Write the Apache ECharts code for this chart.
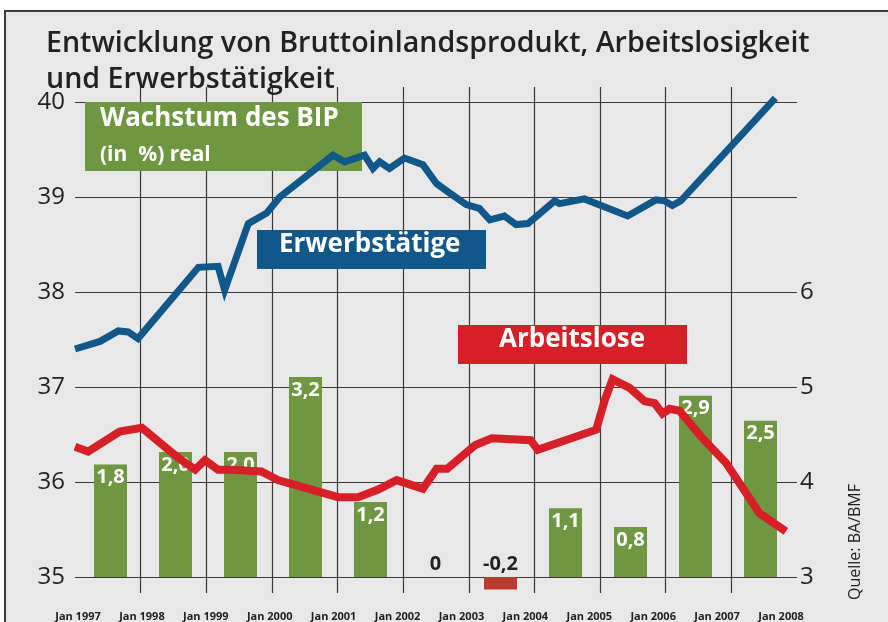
<!DOCTYPE html>
<html>
<head>
<meta charset="utf-8">
<script src="https://cdn.jsdelivr.net/npm/echarts@6/dist/echarts.min.js"></script>
<style>
  html, body { margin: 0; padding: 0; background: #fff; }
  #main { width: 888px; height: 622px; }
</style>
</head>
<body>
<div id="main"></div>
<script>
// BIP-Wachstum je Jahr (in %)
var bipYears = ['1997', '1998', '1999', '2000', '2001', '2002', '2003', '2004', '2005', '2006', '2007'];
var bipGrowth = [1.8, 2.0, 2.0, 3.2, 1.2, 0, -0.2, 1.1, 0.8, 2.9, 2.5];

// Erwerbstaetige (Mio., linke Achse)
var erwerbTime = [1997.00, 1997.38, 1997.66, 1997.81, 1997.96, 1998.88, 1999.18, 1999.28, 1999.64, 1999.92,
  2000.12, 2000.93, 2001.11, 2001.41, 2001.54, 2001.64, 2001.79, 2002.02, 2002.30, 2002.51,
  2002.71, 2002.96, 2003.16, 2003.32, 2003.54, 2003.72, 2003.90, 2004.31, 2004.38, 2004.76,
  2005.42, 2005.85, 2005.98, 2006.10, 2006.23, 2007.67];
var erwerbValues = [37.40, 37.48, 37.59, 37.58, 37.51, 38.26, 38.27, 38.02, 38.72, 38.83,
  39.00, 39.44, 39.37, 39.44, 39.30, 39.37, 39.30, 39.41, 39.34, 39.14,
  39.04, 38.92, 38.88, 38.76, 38.80, 38.71, 38.72, 38.96, 38.93, 38.98,
  38.80, 38.97, 38.96, 38.91, 38.96, 40.04];

// Arbeitslose (Mio., rechte Achse)
var arbeitslosTime = [1997.00, 1997.20, 1997.68, 1998.02, 1998.37, 1998.62, 1998.83, 1998.98, 1999.18, 1999.39,
  1999.84, 2000.09, 2000.35, 2001.01, 2001.31, 2001.62, 2001.90, 2002.30, 2002.51, 2002.67,
  2003.10, 2003.35, 2003.94, 2004.05, 2004.94, 2005.07, 2005.19, 2005.45, 2005.68, 2005.83,
  2005.95, 2006.06, 2006.21, 2006.56, 2006.92, 2007.43, 2007.83];
var arbeitslosValues = [4.37, 4.32, 4.53, 4.57, 4.37, 4.23, 4.13, 4.23, 4.13, 4.13,
  4.11, 4.02, 3.97, 3.84, 3.84, 3.92, 4.02, 3.93, 4.14, 4.14,
  4.39, 4.46, 4.44, 4.34, 4.55, 4.86, 5.08, 4.99, 4.85, 4.83,
  4.72, 4.77, 4.75, 4.46, 4.20, 3.67, 3.48];

var xLabels = ['Jan 1997', 'Jan 1998', 'Jan 1999', 'Jan 2000', 'Jan 2001', 'Jan 2002',
  'Jan 2003', 'Jan 2004', 'Jan 2005', 'Jan 2006', 'Jan 2007', 'Jan 2008'];

var FONT = '"Open Sans", "DejaVu Sans", sans-serif';
var GREEN = '#6f9640', BLUE = '#12578a', RED = '#d71f27';

function pairs(xs, ys) {
  return xs.map(function (x, i) { return [x, ys[i]]; });
}

function fmt(v) {
  return v === 0 ? '0' : v.toFixed(1).replace('.', ',');
}

var barData = bipGrowth.map(function (v) {
  if (v > 0) return v;
  return {
    value: v,
    itemStyle: { color: '#b93c2e' },
    label: { position: 'top', color: '#222', distance: 3 }
  };
});

var chart = echarts.init(document.getElementById('main'));

chart.setOption({
  backgroundColor: '#e8e8e8',
  animation: false,
  textStyle: { fontFamily: FONT },
  title: {
    text: 'Entwicklung von Bruttoinlandsprodukt, Arbeitslosigkeit\nund Erwerbstätigkeit',
    left: 41,
    top: 21,
    textStyle: { fontFamily: FONT, fontSize: 28.6, lineHeight: 36, fontWeight: 600, color: '#222' }
  },
  grid: [
    { left: 75, top: 102, width: 722, height: 475 },
    { left: 75, top: 87, width: 722, height: 506 },
    { left: 78, top: 102, width: 715, height: 500 },
    { left: 78, top: 560, width: 703, height: 45 }
  ],
  xAxis: [
    { gridIndex: 0, type: 'value', min: 1997, max: 2008, show: false },
    {
      gridIndex: 1, type: 'value', min: 1997, max: 2008, interval: 1,
      axisLine: { show: false }, axisTick: { show: false }, axisLabel: { show: false },
      splitLine: { show: true, showMinLine: false, showMaxLine: false, lineStyle: { color: '#3a3a3a', width: 1.2 } }
    },
    { gridIndex: 2, type: 'category', data: bipYears, show: false },
    {
      gridIndex: 3, type: 'category', data: xLabels, boundaryGap: false,
      axisLine: { show: false }, axisTick: { show: false }, splitLine: { show: false },
      axisLabel: { interval: 0, margin: 6, fontSize: 11, fontWeight: 'bold', color: '#222', fontFamily: FONT }
    }
  ],
  yAxis: [
    {
      gridIndex: 0, type: 'value', position: 'left', min: 35, max: 40, interval: 1,
      axisLine: { show: false }, axisTick: { show: false },
      axisLabel: { fontSize: 24, color: '#222', margin: 10, fontFamily: FONT },
      splitLine: { show: true, lineStyle: { color: '#3a3a3a', width: 1.2 } }
    },
    {
      gridIndex: 0, type: 'value', position: 'right', min: 3, max: 8, interval: 1,
      axisLine: { show: false }, axisTick: { show: false }, splitLine: { show: false },
      axisLabel: {
        fontSize: 24, color: '#222', margin: 3, fontFamily: FONT,
        formatter: function (v) { return v <= 6 ? String(v) : ''; }
      }
    },
    { gridIndex: 1, type: 'value', show: false },
    { gridIndex: 2, type: 'value', min: -0.4, max: 7.6, show: false },
    { gridIndex: 3, type: 'value', show: false }
  ],
  graphic: [
    { type: 'rect', silent: true, z: 1, shape: { x: 0, y: 0, width: 888, height: 10 }, style: { fill: '#fff' } },
    { type: 'rect', silent: true, z: 1, shape: { x: 0, y: 0, width: 4, height: 622 }, style: { fill: '#fff' } },
    { type: 'polyline', silent: true, z: 1, shape: { points: [[5, 622], [5, 11], [888, 11]] }, style: { stroke: '#3c3c3c', lineWidth: 2, fill: null } },

    { type: 'rect', silent: true, z: 1, shape: { x: 85, y: 102, width: 277, height: 69 }, style: { fill: GREEN } },
    { type: 'text', silent: true, z: 1, left: 100, top: 106, style: { text: 'Wachstum des BIP', fill: '#fff', font: 'bold 26px ' + FONT } },
    { type: 'text', silent: true, z: 1, left: 100, top: 145, style: { text: '(in  %) real', fill: '#fff', font: 'bold 21px ' + FONT } },

    { type: 'rect', silent: true, z: 1, shape: { x: 257, y: 230, width: 229, height: 39 }, style: { fill: BLUE } },
    { type: 'text', silent: true, z: 1, left: 279, top: 232, style: { text: 'Erwerbstätige', fill: '#fff', font: 'bold 26px ' + FONT } },

    { type: 'rect', silent: true, z: 1, shape: { x: 458, y: 325, width: 229, height: 39 }, style: { fill: RED } },
    { type: 'text', silent: true, z: 1, left: 499, top: 327, style: { text: 'Arbeitslose', fill: '#fff', font: 'bold 26px ' + FONT } },

    {
      type: 'text', silent: true, z: 1, x: 855, y: 542, rotation: Math.PI / 2,
      style: { text: 'Quelle: BA/BMF', fill: '#222', font: '16px ' + FONT, align: 'center', verticalAlign: 'middle' }
    }
  ],
  series: [
    {
      type: 'bar', xAxisIndex: 2, yAxisIndex: 3, data: barData, barWidth: 33, z: 2,
      itemStyle: { color: GREEN },
      label: {
        show: true, position: 'insideTop', distance: 3, color: '#fff',
        fontSize: 20, fontWeight: 'bold', fontFamily: FONT,
        formatter: function (p) { return fmt(p.value); }
      }
    },
    {
      type: 'line', xAxisIndex: 0, yAxisIndex: 0, data: pairs(erwerbTime, erwerbValues),
      showSymbol: false, clip: false, z: 3,
      lineStyle: { color: BLUE, width: 7, join: 'miter' }
    },
    {
      type: 'line', xAxisIndex: 0, yAxisIndex: 1, data: pairs(arbeitslosTime, arbeitslosValues),
      showSymbol: false, clip: false, z: 3,
      lineStyle: { color: RED, width: 8, join: 'miter' }
    }
  ]
});
</script>
</body>
</html>
